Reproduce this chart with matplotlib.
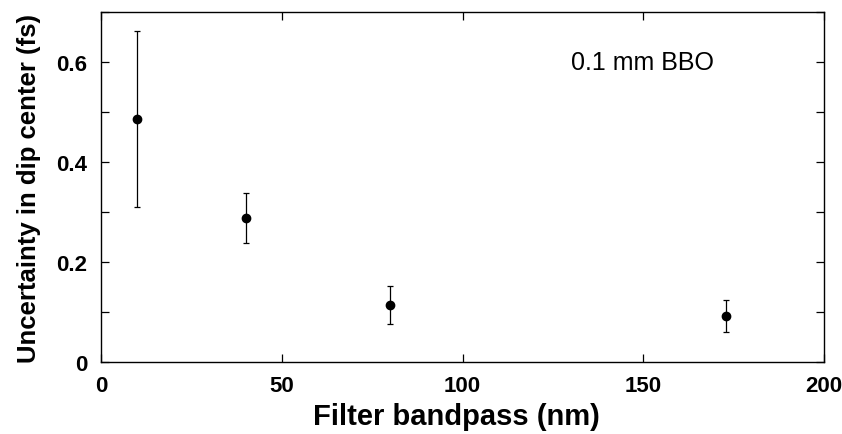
import matplotlib
matplotlib.use("Agg")
import matplotlib.pyplot as plt
from matplotlib.ticker import MultipleLocator

plt.rcParams['font.family'] = ['Liberation Sans', 'DejaVu Sans']

bandpass_nm = [10, 40, 80, 173]
uncertainty_fs = [0.487, 0.288, 0.114, 0.093]
err_upper = [0.663, 0.339, 0.152, 0.124]
err_lower = [0.310, 0.238, 0.076, 0.061]

x_ticks = [0, 50, 100, 150, 200]
x_tick_labels = ['0', '50', '100', '150', '200']
y_ticks = [0, 0.2, 0.4, 0.6]
y_tick_labels = ['0', '0.2', '0.4', '0.6']

yerr = [[u - l for u, l in zip(uncertainty_fs, err_lower)],
        [h - u for u, h in zip(uncertainty_fs, err_upper)]]

fig = plt.figure(figsize=(8.42, 4.35), dpi=100)
ax = fig.add_axes([0.12, 0.1655, 0.8586, 0.8045])

ax.errorbar(bandpass_nm, uncertainty_fs, yerr=yerr, fmt='o', color='black',
            markersize=6, elinewidth=0.9, capsize=2.2, capthick=0.9)

ax.set_xlim(0, 200)
ax.set_ylim(0, 0.7)
ax.set_xticks(x_ticks)
ax.set_xticklabels(x_tick_labels)
ax.set_yticks(y_ticks)
ax.set_yticklabels(y_tick_labels)
ax.yaxis.set_minor_locator(MultipleLocator(0.1))

ax.tick_params(axis='both', which='both', direction='in', top=True, right=True,
               width=0.9, labelsize=16)
ax.tick_params(axis='both', which='major', length=6)
ax.tick_params(axis='y', which='minor', length=6)
ax.tick_params(axis='y', which='both', pad=10)
ax.tick_params(axis='x', which='both', pad=9)
for lab in ax.get_xticklabels() + ax.get_yticklabels():
    lab.set_fontweight('bold')

for s in ax.spines.values():
    s.set_linewidth(1.0)

ax.set_xlabel('Filter bandpass (nm)', fontsize=21, fontweight='bold', labelpad=5)
ax.xaxis.label.set_x(0.491)
ax.set_ylabel('Uncertainty in dip center (fs)', fontsize=18.5, fontweight='bold', labelpad=11)

ax.text(0.749, 0.857, '0.1 mm BBO', transform=ax.transAxes, fontsize=18,
        ha='center', va='center')

fig.savefig('out.png', dpi=100)
